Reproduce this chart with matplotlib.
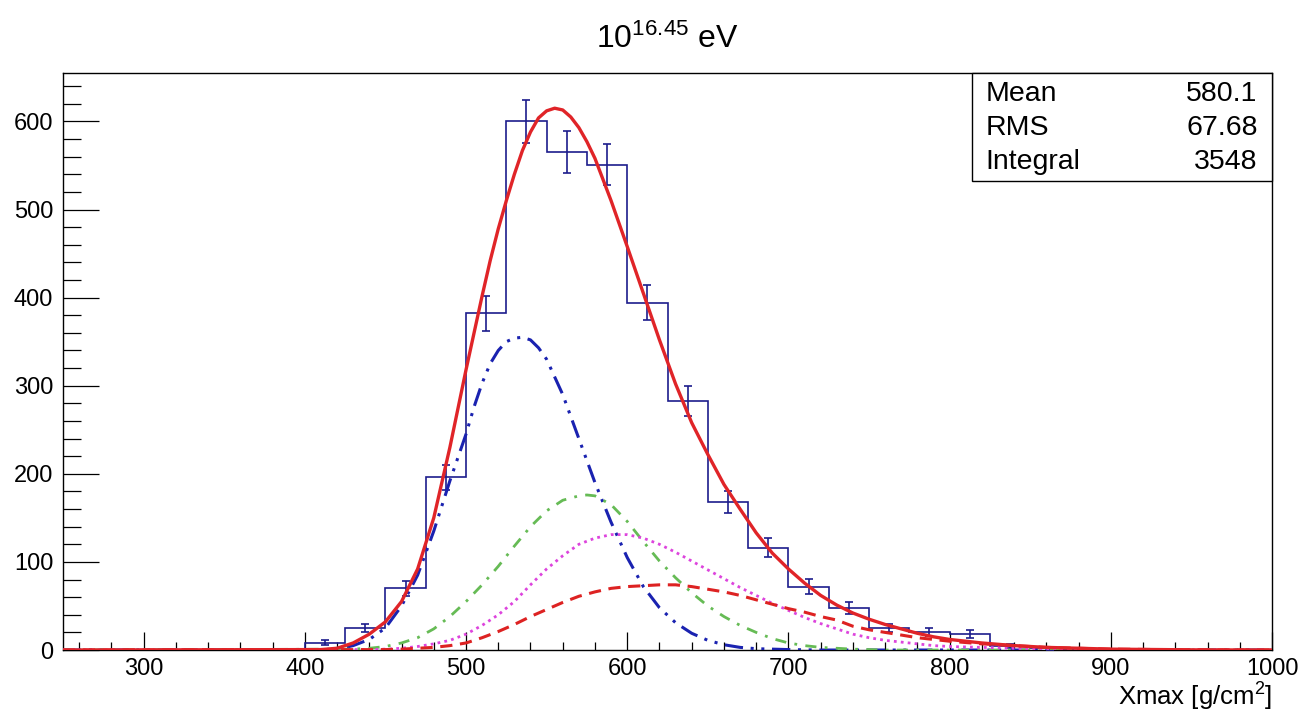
# Xmax distribution at 10^16.45 eV with fitted components (ROOT-style look)

import numpy as np
import matplotlib
matplotlib.use("Agg")
import matplotlib.pyplot as plt
from matplotlib.patches import Rectangle

plt.rcParams['font.family'] = ['Liberation Sans', 'DejaVu Sans']
plt.rcParams['mathtext.fontset'] = 'custom'
plt.rcParams['mathtext.rm'] = 'Liberation Sans'
plt.rcParams['mathtext.it'] = 'Liberation Sans:italic'

# histogram, 25 g/cm2 bins from 250 to 1000
bin_edges = list(range(250, 1001, 25))
counts = [0, 0, 0, 0, 0, 0,
          8, 25, 70, 196, 382, 600, 565, 551, 394, 283, 168, 116,
          72, 48, 25, 20, 18, 5, 2,
          0, 0, 0, 0, 0]

# total fit (red solid)
total_x = [250, 410, 420, 430, 440, 450, 460, 470, 480, 490, 500, 510, 515, 520, 525,
           530, 535, 540, 545, 550, 555, 560, 565, 570, 575, 580, 590, 600, 610, 620,
           630, 640, 650, 660, 670, 680, 690, 700, 710, 720, 730, 740, 750, 760, 770,
           780, 790, 800, 820, 840, 860, 880, 900, 950, 1000]
total_y = [0, 0.5, 2, 8, 18, 32, 55, 92, 150, 230, 318, 402, 442, 478, 510,
           540, 567, 588, 604, 612, 615, 613, 605, 593, 577, 558, 510, 458, 405, 352,
           302, 258, 222, 188, 160, 133, 110, 92, 76, 62, 51, 42, 35, 29, 24,
           19, 15, 12, 8, 5, 3, 2, 1, 0.2, 0]

# component 1 (blue dash-dot-dot)
comp1_x = [250, 410, 420, 430, 440, 450, 460, 470, 480, 490, 500, 505, 510, 515, 520,
           525, 530, 535, 540, 545, 550, 560, 570, 580, 590, 600, 610, 620, 630, 640,
           650, 660, 670, 680, 700, 720, 1000]
comp1_y = [0, 0.2, 1, 5, 12, 25, 50, 85, 135, 192, 245, 276, 303, 325, 340,
           350, 354, 355, 352, 343, 330, 290, 240, 190, 145, 105, 72, 48, 31, 19,
           11, 6, 3, 1.5, 0.5, 0, 0]

# component 2 (green dash-dot)
comp2_x = [250, 430, 440, 450, 460, 470, 480, 490, 500, 510, 520, 530, 540, 550, 560,
           570, 575, 580, 590, 600, 610, 620, 630, 640, 650, 660, 670, 680, 690, 700,
           710, 720, 740, 760, 1000]
comp2_y = [0, 1, 2, 4, 8, 14, 24, 38, 55, 74, 95, 118, 140, 158, 170,
           175, 176, 175, 165, 146, 123, 101, 82, 65, 50, 38, 28, 20, 13, 8,
           5, 3, 1, 0, 0]

# component 3 (magenta dotted)
comp3_x = [250, 440, 450, 460, 470, 480, 490, 500, 510, 520, 530, 540, 550, 560, 570,
           580, 590, 600, 610, 620, 630, 640, 650, 660, 670, 680, 690, 700, 710, 720,
           730, 740, 750, 760, 770, 780, 790, 800, 820, 840, 860, 900, 1000]
comp3_y = [0, 0.5, 1, 2, 4, 7, 11, 18, 28, 40, 55, 74, 92, 107, 120,
           127, 131, 131, 127, 120, 111, 101, 91, 81, 71, 62, 53, 45, 37, 30,
           24, 18, 14, 11, 9, 7, 5, 4, 3, 2, 1, 0, 0]

# component 4 (red dashed)
comp4_x = [250, 450, 460, 470, 480, 490, 500, 510, 520, 530, 540, 550, 560, 570, 580,
           590, 600, 610, 620, 630, 640, 650, 660, 670, 680, 690, 700, 710, 720, 730,
           740, 750, 760, 770, 780, 790, 800, 820, 840, 860, 880, 900, 950, 1000]
comp4_y = [0, 0.5, 1, 2, 3, 5, 8, 14, 21, 29, 38, 46, 54, 61, 66,
           70, 72, 73, 74, 74, 72, 69, 66, 62, 57, 52, 47, 43, 38, 34,
           27, 23, 20, 17, 14, 12, 10, 7, 5, 3, 2, 1, 0.2, 0]

stats_names = ['Mean', 'RMS', 'Integral']
stats_values = ['580.1', '67.68', '3548']

fig = plt.figure(figsize=(13.04, 7.14), dpi=100)
ax = fig.add_axes([0.0483, 0.0896, 0.9272, 0.8082])

# histogram with sqrt(N) errors
ax.stairs(counts, bin_edges, color='#1c1c8c', lw=1.2, zorder=3)
centers = [(bin_edges[i] + bin_edges[i + 1]) / 2 for i in range(len(counts))]
ex = [c for c, n in zip(centers, counts) if n > 0]
ey = [n for n in counts if n > 0]
ax.errorbar(ex, ey, yerr=np.sqrt(ey), fmt='none', ecolor='#1c1c8c',
            elinewidth=1.2, capsize=3, capthick=1.2, zorder=3)

ax.plot(comp1_x, comp1_y, color='#1a22b0', lw=2.2,
        ls=(0, (6, 2.5, 1, 2.5, 1, 2.5)), zorder=4)
ax.plot(comp2_x, comp2_y, color='#66bb55', lw=2.0,
        ls=(0, (4, 3, 1, 3)), zorder=4)
ax.plot(comp3_x, comp3_y, color='#dd44dd', lw=2.0,
        ls=(0, (1, 1.5)), zorder=4)
ax.plot(comp4_x, comp4_y, color='#dd2222', lw=2.2,
        ls=(0, (4, 2.5)), zorder=4)
ax.plot(total_x, total_y, color='#e02428', lw=2.4, zorder=5)

ax.set_xlim(250, 1000)
ax.set_ylim(0, 655)
ax.set_xticks(range(300, 1001, 100))
ax.set_xticks(range(260, 1001, 20), minor=True)
ax.set_yticks(range(0, 601, 100))
ax.set_yticks(range(0, 655, 20), minor=True)
ax.tick_params(axis='both', which='both', direction='in', width=0.9,
               labelsize=17, colors='black')
ax.tick_params(axis='y', which='major', length=26, pad=7)
ax.tick_params(axis='y', which='minor', length=13)
ax.tick_params(axis='x', which='major', length=13, pad=6)
ax.tick_params(axis='x', which='minor', length=6)
for sp in ax.spines.values():
    sp.set_linewidth(1.0)

ax.set_xlabel('Xmax [g/cm$^2$]', fontsize=18.5, loc='right', labelpad=0)
ax.set_title('10$^{16.45}$ eV', fontsize=23, pad=18)

# stats box
ax.add_patch(Rectangle((0.752, 0.813), 0.248, 0.187, transform=ax.transAxes,
                       fill=True, facecolor='white', edgecolor='black',
                       lw=1.0, zorder=6, clip_on=False))
rows_y = [0.963, 0.904, 0.846]
for name, val, yy in zip(stats_names, stats_values, rows_y):
    ax.text(0.763, yy, name, transform=ax.transAxes, fontsize=20.5,
            ha='left', va='center', zorder=7)
    ax.text(0.988, yy, val, transform=ax.transAxes, fontsize=20.5,
            ha='right', va='center', zorder=7)

fig.savefig('out.png', dpi=100)
